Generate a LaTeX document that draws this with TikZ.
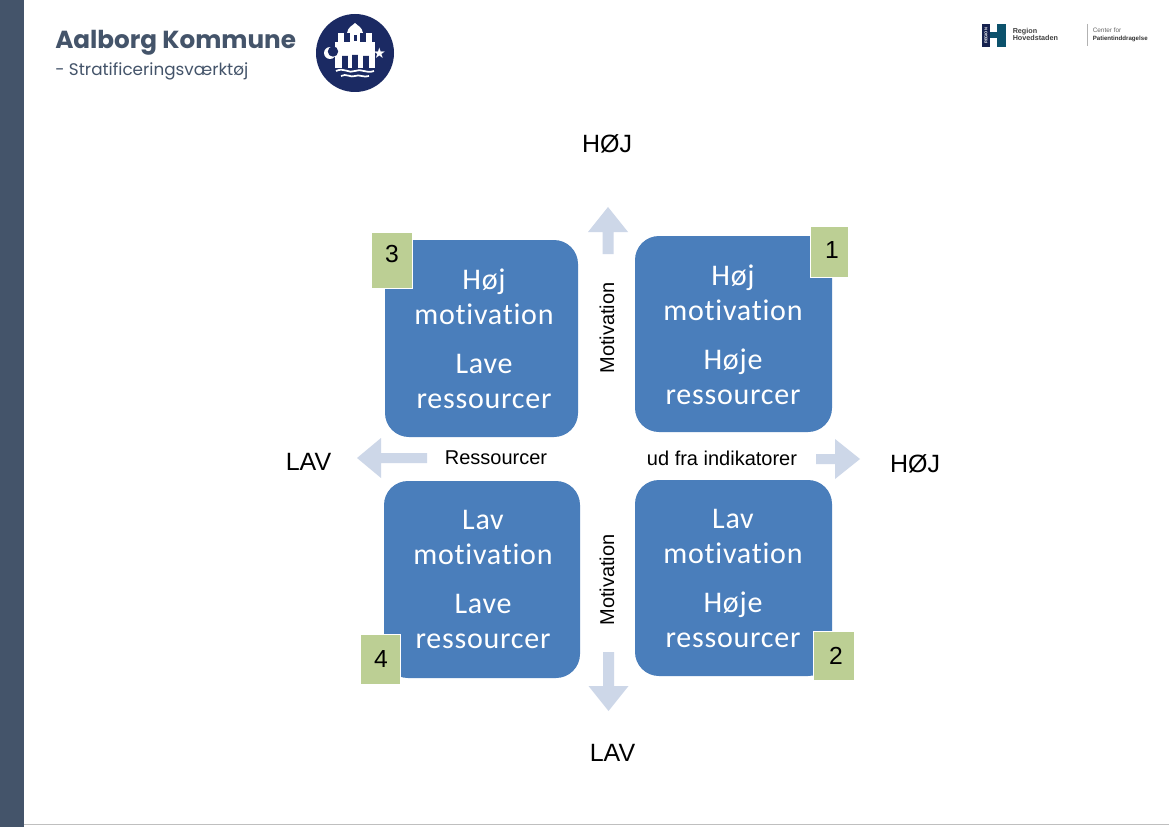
\documentclass[tikz,border=0pt]{standalone}
\usepackage{fontspec}
\setmainfont{Liberation Sans}
\newfontfamily\boxfont[LetterSpace=2.5,Ligatures=NoCommon]{Carlito}
\newfontfamily\titlefont{Poppins}
\newfontfamily\symbfont{DejaVu Sans}
\definecolor{barc}{HTML}{44546A}
\definecolor{boxc}{HTML}{4A7EBB}
\definecolor{arrc}{HTML}{CDD7E8}
\definecolor{greenc}{HTML}{BCCF94}
\definecolor{navy}{HTML}{1B2A63}
\tikzset{
  quad/.style={fill=boxc,draw=none,rounded corners=18pt},
  quadtext/.style={text=white,align=center,inner sep=0pt,font=\boxfont\fontsize{22.5}{26.25}\selectfont},
  numbox/.style={fill=greenc,draw=white,line width=0.5pt},
  numtext/.style={inner sep=0pt,font=\fontsize{18.5}{20}\selectfont},
  axistext/.style={inner sep=0pt,font=\fontsize{15}{18}\selectfont},
  endtext/.style={inner sep=0pt,font=\fontsize{18.75}{22}\selectfont},
  flow/.style={fill=arrc,draw=none},
  castle/.style={fill=white,draw=none}
}
\begin{document}
\begin{tikzpicture}[x=0.75pt,y=-0.75pt]
\useasboundingbox (0,0) rectangle (1169,827);
\fill[white] (0,0) rectangle (1169,827);
% side bar and bottom rule
\fill[barc] (0,0) rectangle (24,827);
\draw[gray!50,line width=0.6pt] (24,824.5) -- (1169,824.5);
% title
\node[anchor=base west,inner sep=0pt,text=barc,font=\titlefont\bfseries\fontsize{18.5}{22}\selectfont] (title) at (55,49) {Aalborg Kommune};
\node[anchor=base west,inner sep=0pt,text=barc,font=\titlefont\fontsize{12.6}{15}\selectfont] (subtitle) at (55,76) {- Stratificeringsværktøj};
% municipal crest
\fill[navy] (355,53) circle (39);
\fill[castle] (350,30) rectangle (360,42);
\fill[castle] (347,33) .. controls (348,27) and (352,26) .. (355,23) .. controls (358,26) and (362,27) .. (363,33) -- cycle;
\fill[castle] (338,33) rectangle (344,42);
\fill[castle] (366,33) rectangle (372,42);
\fill[castle] (335,42) -- (375,42) -- (375,68) -- (335,68) -- cycle;
\fill[navy] (342,56) rectangle (348,68);
\fill[navy] (342,56) arc (180:0:3);
\fill[navy] (352,55) rectangle (358,68);
\fill[navy] (352,55) arc (180:0:3);
\fill[navy] (363,56) rectangle (369,68);
\fill[navy] (363,56) arc (180:0:3);
\fill[navy] (353.5,35) rectangle (356.5,41);
\draw[white,line width=1.3pt] (336,71) .. controls (344,67) and (349,74) .. (355,71) .. controls (361,68) and (366,74) .. (374,71);
\draw[white,line width=1.3pt] (341,76) .. controls (346,73) and (351,78) .. (355,76) .. controls (359,74) and (364,78) .. (369,76);
\fill[white] (330,53) circle (6);
\fill[navy] (333,51.5) circle (5.2);
\node[inner sep=0pt,text=white,font=\symbfont\fontsize{11}{11}\selectfont] (crest star) at (379.5,53) {★};
% right logos
\fill[navy!80!black] (982,24) rectangle (990,47);
\fill[navy!65!cyan!70!black] (997,24) rectangle (1006,47);
\fill[navy!65!cyan!70!black] (990,32) rectangle (997,38);
\node[rotate=90,inner sep=0pt,text=white,font=\bfseries\fontsize{3}{3}\selectfont] (region tag) at (986,36) {REGION};
\node[anchor=base west,inner sep=0pt,text=black!75,font=\bfseries\fontsize{5.4}{6}\selectfont] (region a) at (1012.5,33.5) {Region};
\node[anchor=base west,inner sep=0pt,text=black!75,font=\bfseries\fontsize{5.4}{6}\selectfont] (region b) at (1012.5,40.5) {Hovedstaden};
\draw[gray!60,line width=0.5pt] (1087,24) -- (1087,46);
\node[anchor=base west,inner sep=0pt,text=black!60,font=\fontsize{4.8}{5}\selectfont] (center a) at (1092.5,33) {Center for};
\node[anchor=base west,inner sep=0pt,text=black!80,font=\bfseries\fontsize{4.6}{5}\selectfont] (center b) at (1092.5,40.5) {Patientinddragelse};
% quadrants
\fill[quad] (385,240) rectangle (578,437);
\fill[quad] (635,236) rectangle (832,432);
\fill[quad] (384,481) rectangle (580,678);
\fill[quad] (635,480) rectangle (832,676);
\node[quadtext] (q3) at (484,339) {Høj\\motivation\\[10.5pt]Lave\\ressourcer};
\node[quadtext] (q1) at (733,335) {Høj\\motivation\\[10.5pt]Høje\\ressourcer};
\node[quadtext] (q4) at (483,579) {Lav\\motivation\\[10.5pt]Lave\\ressourcer};
\node[quadtext] (q2) at (733,578) {Lav\\motivation\\[10.5pt]Høje\\ressourcer};
% number tags
\filldraw[numbox] (371,232) rectangle (412,288);
\filldraw[numbox] (810,226) rectangle (848,277);
\filldraw[numbox] (360,634) rectangle (400,684);
\filldraw[numbox] (813,631) rectangle (854,680);
\node[numtext] (n3) at (392,254) {3};
\node[numtext] (n1) at (832,250) {1};
\node[numtext] (n4) at (381,659) {4};
\node[numtext] (n2) at (836,656) {2};
% axis arrows
\fill[flow] (608,207) -- (628,232) -- (613.5,232) -- (613.5,254) -- (602.5,254) -- (602.5,232) -- (588,232) -- cycle;
\fill[flow] (608.5,711) -- (588.5,686) -- (603,686) -- (603,652) -- (614,652) -- (614,686) -- (628.5,686) -- cycle;
\fill[flow] (357,458) -- (381,438) -- (381,453) -- (427,453) -- (427,463) -- (381,463) -- (381,478) -- cycle;
\fill[flow] (860,459) -- (835,439) -- (835,454) -- (816,454) -- (816,464) -- (835,464) -- (835,479) -- cycle;
% axis labels
\node[axistext,rotate=90] (mot top) at (607,328) {Motivation};
\node[axistext,rotate=90] (mot bottom) at (607,580) {Motivation};
\node[axistext] (res) at (496,458) {Ressourcer};
\node[axistext] (ind) at (722,458) {ud fra indikatorer};
\node[endtext] (high y) at (607,144) {HØJ};
\node[endtext] (low y) at (612.5,753) {LAV};
\node[endtext] (low x) at (308.5,462) {LAV};
\node[endtext] (high x) at (915,464) {HØJ};
\end{tikzpicture}
\end{document}
